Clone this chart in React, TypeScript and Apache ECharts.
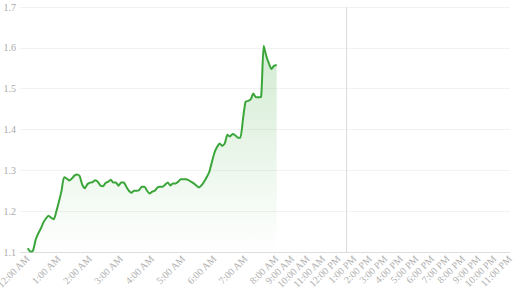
import { useEffect, useRef } from "react";
import * as echarts from "echarts";

// Price readings every 5 minutes from 12:00 AM to 8:00 AM
const values: number[] = [
  1.109, 1.101, 1.103, 1.129, 1.145, 1.157, 1.172, 1.182, 1.189, 1.184,
  1.18, 1.199, 1.223, 1.249, 1.283, 1.28, 1.275, 1.28, 1.287, 1.29,
  1.286, 1.265, 1.256, 1.266, 1.27, 1.271, 1.276, 1.272, 1.263, 1.261,
  1.269, 1.272, 1.277, 1.27, 1.27, 1.262, 1.27, 1.27, 1.26, 1.25,
  1.245, 1.25, 1.25, 1.252, 1.26, 1.26, 1.25, 1.243, 1.248, 1.25,
  1.258, 1.26, 1.26, 1.265, 1.27, 1.263, 1.268, 1.268, 1.272, 1.278,
  1.278, 1.278, 1.276, 1.272, 1.268, 1.263, 1.258, 1.263, 1.272, 1.283,
  1.296, 1.32, 1.343, 1.357, 1.366, 1.36, 1.366, 1.387, 1.383, 1.389,
  1.386, 1.38, 1.38, 1.425, 1.468, 1.47, 1.474, 1.488, 1.479, 1.479,
  1.48, 1.605, 1.58, 1.562, 1.548, 1.556, 1.558,
];

// category slots, in minutes from midnight
const leadingMinutes = [-15, -10, -5];
const dataStart = 0;
const dataStep = 5;
const futureStart = 490;
const futureEnd = 1380;
const futureStep = 10;
const nowLabel = "12:35 PM";

const yMin = 1.1;
const yMax = 1.7;
const yInterval = 0.1;

function fmt(m: number): string {
  const mm = ((m % 1440) + 1440) % 1440;
  const h = Math.floor(mm / 60);
  const mi = mm % 60;
  const h12 = h % 12 === 0 ? 12 : h % 12;
  return `${h12}:${String(mi).padStart(2, "0")} ${h < 12 ? "AM" : "PM"}`;
}

const minutes: number[] = [...leadingMinutes];
for (let i = 0; i < values.length; i++) minutes.push(dataStart + i * dataStep);
for (let m = futureStart; m <= futureEnd; m += futureStep) minutes.push(m);
const categories = minutes.map(fmt);
const seriesData = categories.map((_, i) => {
  const k = i - leadingMinutes.length;
  return k >= 0 && k < values.length ? values[k] : "-";
});
const nowIndex = minutes.findIndex((m) => m >= 750);

export default function App() {
  const ref = useRef<HTMLDivElement>(null);
  useEffect(() => {
    if (!ref.current) return;
    const chart = echarts.init(ref.current, null, { renderer: "svg" });
    const font = "'Liberation Serif', 'Times New Roman', serif";
    chart.setOption({
      animation: false,
      grid: {
        left: 20,
        right: 11,
        top: 7,
        bottom: 48,
        containLabel: false,
        outerBoundsMode: "none",
      },
      xAxis: {
        type: "category",
        data: categories,
        boundaryGap: false,
        axisLine: { lineStyle: { color: "#dddddd", width: 1 } },
        axisTick: { show: false },
        splitLine: { show: false },
        axisLabel: {
          rotate: 45,
          margin: 5,
          fontSize: 10,
          fontFamily: font,
          color: "#b0b0b0",
          showMaxLabel: true,
          hideOverlap: false,
          interval: (idx: number, val: string) =>
            idx >= leadingMinutes.length && /:00 [AP]M$/.test(val),
        },
      },
      yAxis: {
        type: "value",
        min: yMin,
        max: yMax,
        interval: yInterval,
        axisLine: { show: false },
        axisTick: { show: false },
        splitLine: { lineStyle: { color: "#f2f2f2", width: 1 } },
        axisLabel: {
          margin: 4,
          fontSize: 10,
          fontFamily: font,
          color: "#aaaaaa",
          formatter: (v: number) => v.toFixed(1),
        },
      },
      series: [
        {
          type: "line",
          data: seriesData,
          showSymbol: false,
          symbol: "none",
          smooth: 0.2,
          connectNulls: false,
          lineStyle: { color: "#3aa63a", width: 2 },
          itemStyle: { color: "#3aa63a" },
          areaStyle: {
            color: new echarts.graphic.LinearGradient(0, 0, 0, 1, [
              { offset: 0, color: "rgba(58,166,58,0.32)" },
              { offset: 1, color: "rgba(58,166,58,0.0)" },
            ]),
          },
          markLine: {
            silent: true,
            symbol: "none",
            label: { show: false },
            lineStyle: { color: "#dcdcdc", width: 1, type: "solid" },
            data: [{ xAxis: nowIndex }],
          },
        },
      ],
    });
    return () => chart.dispose();
  }, []);
  return (
    <div
      ref={ref}
      style={{ position: "absolute", left: 0, top: 0, width: 521, height: 300 }}
    />
  );
}
